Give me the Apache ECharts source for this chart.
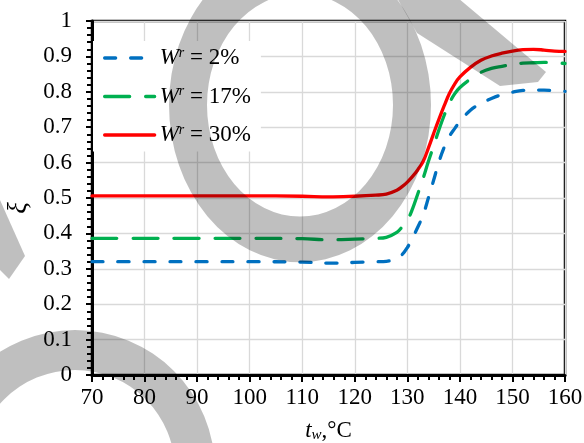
<!DOCTYPE html>
<html>
<head>
<meta charset="utf-8">
<script src="https://cdn.jsdelivr.net/npm/echarts@6/dist/echarts.min.js"></script>
<style>
  html, body { margin: 0; padding: 0; background: #fff; }
  #chart { width: 584px; height: 443px; }
</style>
</head>
<body>
<div id="chart"></div>
<script>
// Wall temperature t_w, °C
const tw = [70, 80, 90, 100, 110, 115, 120, 124, 126, 128, 129, 130, 131, 132, 133, 134, 135, 136, 137, 138, 139, 140, 142, 144, 146, 148, 150, 152, 154, 156, 158, 160];
// ξ for each moisture content W^r
const xiW2 = [0.320, 0.320, 0.320, 0.320, 0.319, 0.316, 0.318, 0.320, 0.321, 0.330, 0.340, 0.360, 0.388, 0.418, 0.452, 0.500, 0.550, 0.601, 0.643, 0.674, 0.696, 0.716, 0.748, 0.767, 0.781, 0.792, 0.799, 0.804, 0.805, 0.805, 0.803, 0.801];
const xiW17 = [0.386, 0.386, 0.386, 0.386, 0.385, 0.382, 0.384, 0.386, 0.389, 0.403, 0.418, 0.437, 0.470, 0.512, 0.555, 0.603, 0.647, 0.692, 0.733, 0.768, 0.794, 0.812, 0.836, 0.855, 0.866, 0.872, 0.877, 0.881, 0.882, 0.883, 0.882, 0.880];
const xiW30 = [0.506, 0.506, 0.506, 0.506, 0.505, 0.503, 0.505, 0.508, 0.511, 0.522, 0.532, 0.545, 0.561, 0.580, 0.603, 0.641, 0.682, 0.722, 0.760, 0.795, 0.822, 0.842, 0.869, 0.889, 0.901, 0.909, 0.915, 0.919, 0.920, 0.918, 0.915, 0.914];
const seriesLabels = ['2%', '17%', '30%'];

const FONT = "'Liberation Serif', 'Times New Roman', serif";
const FS = 23;
const pair = (ys) => tw.map((x, i) => [x, ys[i]]);

const chart = echarts.init(document.getElementById('chart'), null, { renderer: 'canvas' });

const lineSeries = (name, ys, color, dash) => ({
  name: name,
  type: 'line',
  data: pair(ys),
  symbol: 'none',
  showSymbol: false,
  smooth: 0.4,
  lineStyle: { color: color, width: 3.3, type: dash, cap: 'round' },
  itemStyle: { color: color }
});

const shade = 'rgba(0,0,0,0.25)';

chart.setOption({
  animation: false,
  backgroundColor: '#fff',
  grid: {
    left: 92, top: 21, right: 19, bottom: 68,
    containLabel: false,
    outerBoundsMode: 'none',
    show: true, borderColor: '#000', borderWidth: 2.5, backgroundColor: 'transparent'
  },
  legend: {
    orient: 'vertical',
    left: 93, top: 41,
    padding: [5, 10, 5, 10],
    backgroundColor: '#fff',
    itemWidth: 50, itemHeight: 14, itemGap: 15,
    data: seriesLabels,
    itemStyle: { color: 'rgba(0,0,0,0)', borderWidth: 0, opacity: 0 },
    lineStyle: { width: 3.3 },
    formatter: (name) => '{w|W}{r|r}{t| = ' + name + '}',
    textStyle: {
      fontFamily: FONT, fontSize: FS, color: '#000',
      rich: {
        w: { fontFamily: FONT, fontSize: FS, fontStyle: 'italic', lineHeight: 24, color: '#000' },
        r: { fontFamily: FONT, fontSize: 14, fontStyle: 'italic', lineHeight: 17, verticalAlign: 'top', color: '#000' },
        t: { fontFamily: FONT, fontSize: FS, lineHeight: 24, color: '#000' }
      }
    }
  },
  xAxis: {
    type: 'value', min: 70, max: 160, interval: 10,
    name: '{t|t}{w|w}{c|,°C}',
    nameLocation: 'middle', nameGap: 44,
    nameTextStyle: {
      fontFamily: FONT, fontSize: FS, color: '#000',
      rich: {
        t: { fontFamily: FONT, fontSize: FS, fontStyle: 'italic', lineHeight: 24, color: '#000' },
        w: { fontFamily: FONT, fontSize: 15, fontStyle: 'italic', lineHeight: 8, verticalAlign: 'bottom', color: '#000' },
        c: { fontFamily: FONT, fontSize: FS, lineHeight: 24, color: '#000' }
      }
    },
    axisLine: { lineStyle: { color: '#000', width: 3 } },
    axisTick: { inside: false, length: 7, lineStyle: { color: '#000', width: 2 } },
    minorTick: { show: true, splitNumber: 5, length: 5, lineStyle: { color: '#000', width: 2 } },
    splitLine: { lineStyle: { color: '#d9d9d9', width: 1.3 } },
    axisLabel: { fontFamily: FONT, fontSize: FS, color: '#000', margin: 11 }
  },
  yAxis: {
    type: 'value', min: 0, max: 1, interval: 0.1,
    name: 'ξ',
    nameLocation: 'middle', nameGap: 38,
    nameTextStyle: { fontFamily: FONT, fontSize: 27, fontStyle: 'italic', color: '#000', padding: [0, 20, 0, 0] },
    axisLine: { show: true, lineStyle: { color: '#000', width: 3 } },
    axisTick: { show: true, inside: false, length: 6, lineStyle: { color: '#000', width: 2 } },
    minorTick: { show: true, splitNumber: 5, length: 5, lineStyle: { color: '#000', width: 2 } },
    splitLine: { lineStyle: { color: '#d9d9d9', width: 1.3 } },
    axisLabel: {
      fontFamily: FONT, fontSize: FS, color: '#000', margin: 20,
      formatter: (v) => String(Math.round(v * 10) / 10)
    }
  },
  series: [
    lineSeries(seriesLabels[0], xiW2, '#0070C0', [11, 15]),
    lineSeries(seriesLabels[1], xiW17, '#00B050', [25, 16]),
    lineSeries(seriesLabels[2], xiW30, '#FF0000', 'solid')
  ],
  // translucent grey emblem laid over the plot; the tail starts at the ring's
  // outer edge so the two pieces do not overlap
  graphic: [
    {
      type: 'ring', x: 300, y: 105, scaleY: 1.2,
      shape: { cx: 0, cy: 0, r: 131, r0: 93 },
      style: { fill: shade }, silent: true, z: 100
    },
    {
      type: 'polygon',
      shape: { points: [[397, -2], [458, -2], [546, 72], [538, 82], [500, 86], [417, 33]] },
      style: { fill: shade }, silent: true, z: 100
    },
    {
      type: 'ring', x: 75, y: 470,
      shape: { cx: 0, cy: 0, r: 140, r0: 100 },
      style: { fill: shade }, silent: true, z: 100
    },
    {
      type: 'polygon',
      shape: { points: [[0, 200], [25, 256], [9, 279], [0, 270]] },
      style: { fill: shade }, silent: true, z: 100
    }
  ]
});
</script>
</body>
</html>
